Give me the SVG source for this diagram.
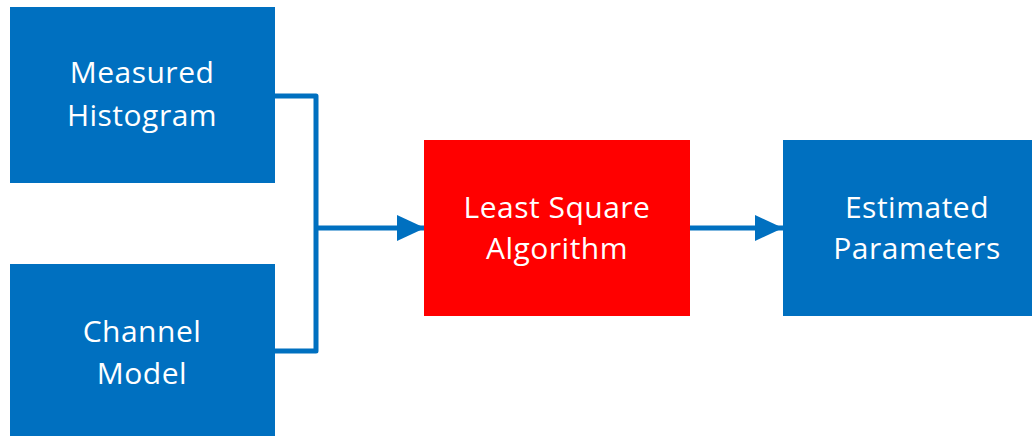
<svg xmlns="http://www.w3.org/2000/svg" width="1032" height="436" viewBox="0 0 1032 436">
<defs>
<style>
.box{fill:#0070C0;}
.red{fill:#FF0000;}
.lbl{font-family:"Open Sans","Liberation Sans",Arial,sans-serif;font-size:30px;letter-spacing:0.5px;fill:#FFFFFF;text-anchor:middle;}
.conn{fill:none;stroke:#0070C0;stroke-width:5;stroke-linejoin:round;}
</style>
<marker id="arr" viewBox="0 0 28 26" refX="28" refY="13" markerWidth="28" markerHeight="26" markerUnits="userSpaceOnUse" orient="auto">
<path d="M0,0 L28,13 L0,26 Z" fill="#0070C0"/>
</marker>
</defs>
<g id="connectors">
<polyline class="conn" points="275,96 316,96 316,351 275,351"/>
<line class="conn" x1="316" y1="228" x2="425" y2="228" marker-end="url(#arr)"/>
<line class="conn" x1="690" y1="228" x2="783" y2="228" marker-end="url(#arr)"/>
</g>
<g id="measured">
<rect class="box" x="10" y="7" width="265" height="176"/>
<text class="lbl" x="142" y="83">Measured</text>
<text class="lbl" x="142" y="126">Histogram</text>
</g>
<g id="channel">
<rect class="box" x="10" y="264" width="265" height="176"/>
<text class="lbl" x="142" y="342">Channel</text>
<text class="lbl" x="142" y="384">Model</text>
</g>
<g id="lsa">
<rect class="red" x="424" y="140" width="266" height="176"/>
<text class="lbl" x="557" y="218">Least Square</text>
<text class="lbl" x="557" y="259">Algorithm</text>
</g>
<g id="estimated">
<rect class="box" x="783" y="140" width="255" height="176"/>
<text class="lbl" x="917" y="218">Estimated</text>
<text class="lbl" x="917" y="259">Parameters</text>
</g>
</svg>
